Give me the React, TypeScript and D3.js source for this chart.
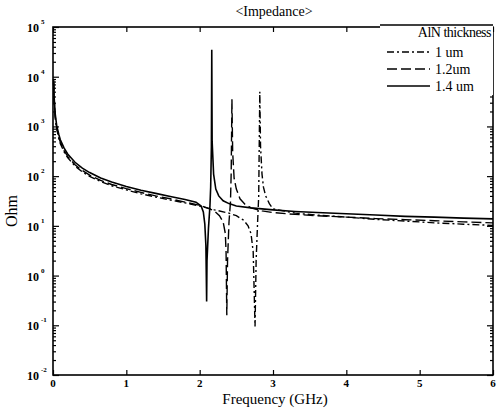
import React, { useRef, useEffect } from "react";
import * as d3 from "d3";

// series: AlN thickness 1.4 um (solid)
const freq14 = [0.008, 0.015, 0.03, 0.05, 0.08, 0.1, 0.15, 0.2, 0.3, 0.4, 0.5, 0.65, 0.8, 1.0, 1.2, 1.4, 1.6, 1.8, 1.95, 2.02, 2.05, 2.07, 2.085, 2.095, 2.1, 2.12, 2.14, 2.15, 2.16, 2.165, 2.17, 2.19, 2.22, 2.26, 2.32, 2.4, 2.5, 2.7, 3.0, 3.3, 3.6, 4.0, 4.4, 4.8, 5.2, 5.6, 6.0];
const z14 = [9000, 4000, 1800, 1050, 680, 540, 370, 280, 190, 145, 118, 92, 76, 62, 52, 45, 39, 34, 30, 25, 19, 11, 4, 0.3, 2, 9, 25, 60, 400, 35000, 500, 110, 55, 40, 32, 28, 25, 23, 21, 19.5, 18.5, 17.5, 16.5, 15.5, 15, 14.3, 13.8];

// 1.2 um (dashed)
const freq12 = [0.008, 0.015, 0.03, 0.05, 0.08, 0.1, 0.15, 0.2, 0.3, 0.4, 0.5, 0.65, 0.8, 1.0, 1.2, 1.4, 1.6, 1.8, 2.0, 2.1, 2.2, 2.27, 2.32, 2.35, 2.36, 2.37, 2.38, 2.4, 2.42, 2.43, 2.44, 2.45, 2.47, 2.5, 2.55, 2.62, 2.7, 2.85, 3.0, 3.3, 3.6, 4.0, 4.4, 4.8, 5.2, 5.6, 6.0];
const z12 = [8000, 3600, 1600, 950, 600, 480, 330, 250, 170, 130, 105, 82, 68, 56, 47, 40, 35, 30, 26, 23, 20, 16, 12, 7, 3, 0.16, 2, 12, 30, 120, 3500, 300, 90, 55, 35, 27, 23, 20, 18.5, 17, 16, 15, 14, 13.3, 12.7, 12, 11.5];

// 1 um (dash-dot)
const freq10 = [0.008, 0.015, 0.03, 0.05, 0.08, 0.1, 0.15, 0.2, 0.3, 0.4, 0.5, 0.65, 0.8, 1.0, 1.2, 1.4, 1.6, 1.8, 2.0, 2.2, 2.4, 2.5, 2.6, 2.66, 2.7, 2.73, 2.755, 2.77, 2.79, 2.805, 2.82, 2.83, 2.85, 2.87, 2.9, 2.95, 3.0, 3.3, 3.6, 4.0, 4.4, 4.8, 5.2, 5.6, 6.0];
const z10 = [7500, 3400, 1500, 900, 570, 450, 310, 235, 160, 122, 99, 78, 64, 53, 44, 38, 33, 29, 25, 21, 18, 16, 13, 10, 7, 3, 0.095, 2, 12, 40, 5000, 400, 110, 60, 40, 28, 22, 18, 16.5, 15, 13.5, 12.5, 11.5, 10.8, 10.2];

const series = [
  { label: "1 um", freq: freq10, z: z10, dash: "7,3,2,3" },
  { label: "1.2um", freq: freq12, z: z12, dash: "10,4" },
  { label: "1.4 um", freq: freq14, z: z14, dash: null },
];

const xTicks = [0, 1, 2, 3, 4, 5, 6];
const yDecades = [-2, -1, 0, 1, 2, 3, 4, 5];

const App = () => {
  const ref = useRef(null);

  useEffect(() => {
    const svg = d3.select(ref.current);
    svg.selectAll("*").remove();

    const margin = { top: 27, right: 6, bottom: 33, left: 53 };
    const W = 499, H = 408;
    const width = W - margin.left - margin.right;
    const height = H - margin.top - margin.bottom;
    const font = "'Liberation Serif', 'Times New Roman', serif";

    svg.attr("width", W).attr("height", H);

    const g = svg.append("g").attr("transform", `translate(${margin.left},${margin.top})`);

    const x = d3.scaleLinear().domain([0, 6]).range([0, width]);
    const y = d3.scaleLog().domain([0.01, 100000]).range([height, 0]);

    // minor log ticks
    const minor = [];
    yDecades.slice(0, -1).forEach((e) => {
      for (let k = 2; k <= 9; k++) minor.push(k * Math.pow(10, e));
    });
    const majors = yDecades.map((e) => Math.pow(10, e));

    const styleAxis = (sel) => {
      sel.select(".domain").remove();
      sel.selectAll("line").attr("stroke", "#000").attr("stroke-width", 1.2);
      sel.selectAll("text").remove();
    };

    g.append("g").call(d3.axisLeft(y).tickValues(minor).tickSize(-3)).call(styleAxis);
    g.append("g").call(d3.axisLeft(y).tickValues(majors).tickSize(-6)).call(styleAxis);
    g.append("g").attr("transform", `translate(${width},0)`)
      .call(d3.axisRight(y).tickValues(minor).tickSize(-3)).call(styleAxis);
    g.append("g").attr("transform", `translate(${width},0)`)
      .call(d3.axisRight(y).tickValues(majors).tickSize(-6)).call(styleAxis);
    g.append("g").attr("transform", `translate(0,${height})`)
      .call(d3.axisBottom(x).tickValues(xTicks).tickSize(-5)).call(styleAxis);
    g.append("g").call(d3.axisTop(x).tickValues(xTicks).tickSize(-5)).call(styleAxis);

    // frame
    g.append("rect")
      .attr("width", width)
      .attr("height", height)
      .attr("fill", "none")
      .attr("stroke", "#000")
      .attr("stroke-width", 1.6);

    // y tick labels 10^n
    const yl = g.append("g").attr("font-family", font).attr("font-weight", "bold").attr("fill", "#000");
    yDecades.forEach((e) => {
      const t = yl.append("text")
        .attr("x", -26)
        .attr("y", y(Math.pow(10, e)) + 5)
        .attr("font-size", 12);
      t.append("tspan").text("10");
      t.append("tspan")
        .attr("dx", 2)
        .attr("dy", -8)
        .attr("font-size", 7)
        .text(e < 0 ? `-${Math.abs(e)}` : `${e}`);
    });

    // x tick labels
    g.append("g").selectAll("text").data(xTicks).enter().append("text")
      .attr("x", (d) => x(d))
      .attr("y", height + 12)
      .attr("text-anchor", "middle")
      .attr("font-family", font)
      .attr("font-weight", "bold")
      .attr("font-size", 11)
      .text((d) => d);

    // curves
    const line = d3.line().x((d) => x(d[0])).y((d) => y(d[1]));
    series.forEach((s) => {
      const pts = s.freq.map((f, i) => [f, s.z[i]]);
      g.append("path")
        .datum(pts)
        .attr("d", line)
        .attr("fill", "none")
        .attr("stroke", "#000")
        .attr("stroke-width", s.dash ? 1.4 : 1.6)
        .attr("stroke-dasharray", s.dash);
    });

    // legend
    const lg = g.append("g").attr("transform", `translate(${width - 113},-2)`);
    lg.append("rect").attr("width", 113).attr("height", 70).attr("fill", "#fff");
    lg.append("line").attr("x1", 0).attr("x2", 113).attr("y1", 0).attr("y2", 0)
      .attr("stroke", "#000").attr("stroke-width", 1.6);
    lg.append("text")
      .attr("x", 111)
      .attr("y", 12)
      .attr("text-anchor", "end")
      .attr("font-family", font)
      .attr("font-size", 14)
      .attr("letter-spacing", -0.5)
      .text("AlN thickness");
    series.forEach((s, i) => {
      const ly = 27 + i * 17;
      lg.append("line")
        .attr("x1", 7).attr("x2", 50).attr("y1", ly).attr("y2", ly)
        .attr("stroke", "#000").attr("stroke-width", s.dash ? 1.4 : 1.6)
        .attr("stroke-dasharray", s.dash);
      lg.append("text")
        .attr("x", 55)
        .attr("y", ly + 5)
        .attr("font-family", font)
        .attr("font-size", 14)
        .text(s.label);
    });

    // title and axis labels
    svg.append("text")
      .attr("x", 274)
      .attr("y", 16)
      .attr("text-anchor", "middle")
      .attr("font-family", font)
      .attr("font-size", 14)
      .text("<Impedance>");
    svg.append("text")
      .attr("x", 275)
      .attr("y", 404)
      .attr("text-anchor", "middle")
      .attr("font-family", font)
      .attr("font-size", 15)
      .text("Frequency (GHz)");
    svg.append("text")
      .attr("transform", "translate(17,211) rotate(-90)")
      .attr("text-anchor", "middle")
      .attr("font-family", font)
      .attr("font-size", 16)
      .text("Ohm");

    return () => {
      svg.selectAll("*").remove();
    };
  }, []);

  return <svg ref={ref} style={{ position: "absolute", left: 0, top: 0, display: "block", background: "#fff" }} />;
};

export default App;
